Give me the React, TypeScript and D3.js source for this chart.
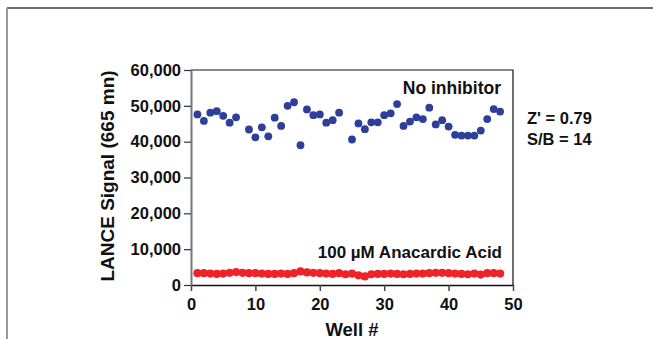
import * as d3 from "d3";
import { useEffect, useRef } from "react";

// wells with a "No inhibitor" reading (8 and 24 have no point on the plot)
const blueWells = [1, 2, 3, 4, 5, 6, 7, 9, 10, 11, 12, 13, 14, 15, 16, 17, 18, 19, 20, 21, 22, 23,
  25, 26, 27, 28, 29, 30, 31, 32, 33, 34, 35, 36, 37, 38, 39, 40, 41, 42, 43, 44, 45, 46, 47, 48];
const blueValues = [47600, 45800, 48100, 48500, 47200, 45300, 46800, 43400, 41200, 44000, 41500, 46700,
  44400, 50000, 51000, 39000, 49000, 47400, 47600, 45300, 46000, 48100,
  40600, 45100, 43500, 45400, 45400, 47400, 47900, 50500, 44400, 45600, 46800, 46300, 49500, 44800,
  46000, 44200, 41900, 41700, 41700, 41700, 43100, 46300, 49100, 48400];

const redWells = [1, 2, 3, 4, 5, 6, 7, 8, 9, 10, 11, 12, 13, 14, 15, 16, 17, 18, 19, 20, 21, 22, 23, 24,
  25, 26, 27, 28, 29, 30, 31, 32, 33, 34, 35, 36, 37, 38, 39, 40, 41, 42, 43, 44, 45, 46, 47, 48];
const redValues = [3300, 3300, 3200, 3100, 3200, 3400, 3600, 3400, 3300, 3300, 3200, 3100,
  3100, 3200, 3100, 3300, 3800, 3500, 3400, 3300, 3200, 3100, 3300, 3000,
  3200, 2700, 2400, 3000, 3100, 3100, 3200, 3100, 3000, 3100, 3200, 3200,
  3300, 3400, 3400, 3300, 3200, 3100, 3000, 3200, 2900, 3300, 3300, 3200];

const xTicks = [0, 10, 20, 30, 40, 50];
const yTicks = [0, 10000, 20000, 30000, 40000, 50000, 60000];

const FONT = "'Liberation Sans', Arial, Helvetica, sans-serif";

const App = () => {
  const ref = useRef<SVGSVGElement>(null);

  useEffect(() => {
    const svg = d3.select(ref.current);
    svg.selectAll("*").remove();

    const x = d3.scaleLinear().domain([0, 50]).range([191, 513]);
    const y = d3.scaleLinear().domain([0, 60000]).range([285, 70]);

    // outer frame of the figure panel
    svg.append("line").attr("x1", 7).attr("y1", 8).attr("x2", 653).attr("y2", 8)
      .attr("stroke", "#3a3a3a").attr("stroke-width", 1.5);
    svg.append("line").attr("x1", 7).attr("y1", 8).attr("x2", 7).attr("y2", 339)
      .attr("stroke", "#999").attr("stroke-width", 2);

    // top and right sides of plot box
    svg.append("path")
      .attr("d", `M${x(0)},${y(60000)}H${x(50)}V${y(0)}`)
      .attr("fill", "none").attr("stroke", "#111").attr("stroke-width", 1.2);

    const xAxis = svg.append("g")
      .attr("transform", `translate(0,${y(0)})`)
      .call(d3.axisBottom(x).tickValues(xTicks).tickSize(6).tickSizeOuter(0).tickPadding(7));
    xAxis.select(".domain").attr("stroke", "#111").attr("stroke-width", 1.5);
    xAxis.selectAll(".tick line").attr("stroke", "#444").attr("stroke-width", 1.5);
    xAxis.selectAll(".tick text")
      .attr("font-family", FONT).attr("font-size", 16.5).attr("font-weight", "bold").attr("fill", "#111");

    const yAxis = svg.append("g")
      .attr("transform", `translate(${x(0)},0)`)
      .call(d3.axisLeft(y).tickValues(yTicks).tickSize(7).tickSizeOuter(0).tickPadding(3)
        .tickFormat(d3.format(",")));
    yAxis.select(".domain").attr("stroke", "#777").attr("stroke-width", 2);
    yAxis.selectAll(".tick line").attr("stroke", "#333").attr("stroke-width", 1.2);
    yAxis.selectAll(".tick text")
      .attr("font-family", FONT).attr("font-size", 16.5).attr("font-weight", "bold").attr("fill", "#111");

    // points
    svg.append("g").selectAll("circle")
      .data(redWells.map((w, i) => ({ w, v: redValues[i] })))
      .join("circle")
      .attr("cx", (d) => x(d.w)).attr("cy", (d) => y(d.v)).attr("r", 4.1)
      .attr("fill", "#ee2229");

    svg.append("g").selectAll("circle")
      .data(blueWells.map((w, i) => ({ w, v: blueValues[i] })))
      .join("circle")
      .attr("cx", (d) => x(d.w)).attr("cy", (d) => y(d.v)).attr("r", 3.9)
      .attr("fill", "#2d3f99");

    const label = (tx: number, ty: number, s: string, size: number, anchor: string) =>
      svg.append("text").attr("x", tx).attr("y", ty).attr("text-anchor", anchor)
        .attr("font-family", FONT).attr("font-size", size).attr("font-weight", "bold")
        .attr("fill", "#111").text(s);

    label(501, 94, "No inhibitor", 17.5, "end");
    label(502, 258, "100 \u00B5M Anacardic Acid", 17, "end");
    label(527, 124, "Z' = 0.79", 16.5, "start");
    label(527, 145, "S/B = 14", 16.5, "start");
    label(352, 336, "Well #", 18.5, "middle");

    svg.append("text")
      .attr("transform", `translate(114,176) rotate(-90)`)
      .attr("text-anchor", "middle")
      .attr("font-family", FONT).attr("font-size", 19).attr("font-weight", "bold")
      .attr("fill", "#111")
      .text("LANCE Signal (665 mn)");
  }, []);

  return (
    <svg ref={ref} width={653} height={339}
      style={{ position: "absolute", left: 0, top: 0, background: "#fff" }} />
  );
};

export default App;
